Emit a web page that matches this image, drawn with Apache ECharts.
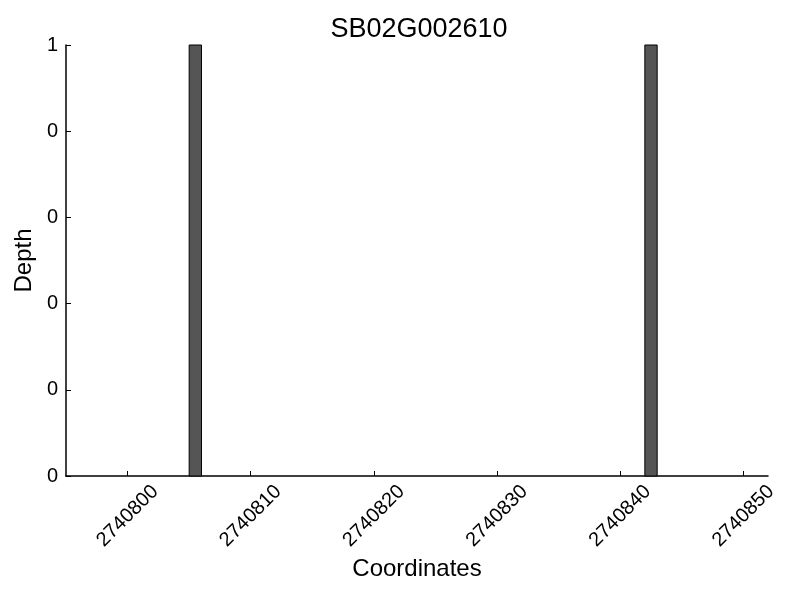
<!DOCTYPE html>
<html>
<head>
<meta charset="utf-8">
<script src="https://cdn.jsdelivr.net/npm/echarts@6/dist/echarts.min.js"></script>
<style>html,body{margin:0;padding:0;background:#fff}#c{width:800px;height:600px}</style>
</head>
<body>
<div id="c"></div>
<script>
const chartTitle = "SB02G002610";
const positions = [2740805, 2740842];
const depths = [1, 1];
const xTicks = [2740800, 2740810, 2740820, 2740830, 2740840, 2740850];
const yTicks = [0, 0.2, 0.4, 0.6, 0.8, 1];

const FONT = "Liberation Sans";
const chart = echarts.init(document.getElementById('c'));
const data = positions.map((p, i) => [p, depths[i]]);

chart.setOption({
  animation: false,
  backgroundColor: '#ffffff',
  title: {
    text: chartTitle,
    left: 414,
    textAlign: 'center',
    top: 11,
    textStyle: {fontFamily: FONT, fontSize: 27, fontWeight: 'normal', color: '#000'}
  },
  grid: {left: 66, right: 32, top: 45, bottom: 124},
  xAxis: {
    type: 'value',
    min: 2740795,
    max: 2740852,
    name: 'Coordinates',
    nameLocation: 'middle',
    nameGap: 77,
    nameTextStyle: {fontFamily: FONT, fontSize: 24, color: '#000'},
    splitLine: {show: false},
    axisLine: {show: true, lineStyle: {color: '#000', width: 1.5}},
    axisTick: {show: true, inside: true, length: 5, customValues: xTicks, lineStyle: {color: '#000', width: 1}},
    axisLabel: {
      customValues: xTicks,
      rotate: 45,
      align: 'center',
      verticalAlign: 'middle',
      margin: 40,
      fontFamily: FONT, fontSize: 20, color: '#000',
      formatter: v => String(Math.round(v))
    }
  },
  yAxis: {
    type: 'value',
    min: 0,
    max: 1,
    name: 'Depth',
    nameLocation: 'middle',
    nameRotate: 90,
    nameGap: 25,
    nameTextStyle: {fontFamily: FONT, fontSize: 24, color: '#000'},
    splitLine: {show: false},
    axisLine: {show: true, lineStyle: {color: '#000', width: 1.5}},
    axisTick: {show: true, inside: true, length: 5, customValues: yTicks, lineStyle: {color: '#000', width: 1}},
    axisLabel: {
      customValues: yTicks,
      margin: 8,
      fontFamily: FONT, fontSize: 20, color: '#000',
      formatter: v => String(Math.floor(v + 1e-9))
    }
  },
  series: [{
    type: 'custom',
    data: data,
    encode: {x: 0, y: 1},
    renderItem: function (params, api) {
      const x = api.value(0), y = api.value(1);
      const p0 = api.coord([x, y]);
      const p1 = api.coord([x + 1, 0]);
      return {
        type: 'rect',
        shape: {x: p0[0], y: p0[1], width: p1[0] - p0[0], height: p1[1] - p0[1]},
        style: {fill: '#555555', stroke: '#000', lineWidth: 1}
      };
    }
  }]
});
</script>
</body>
</html>
